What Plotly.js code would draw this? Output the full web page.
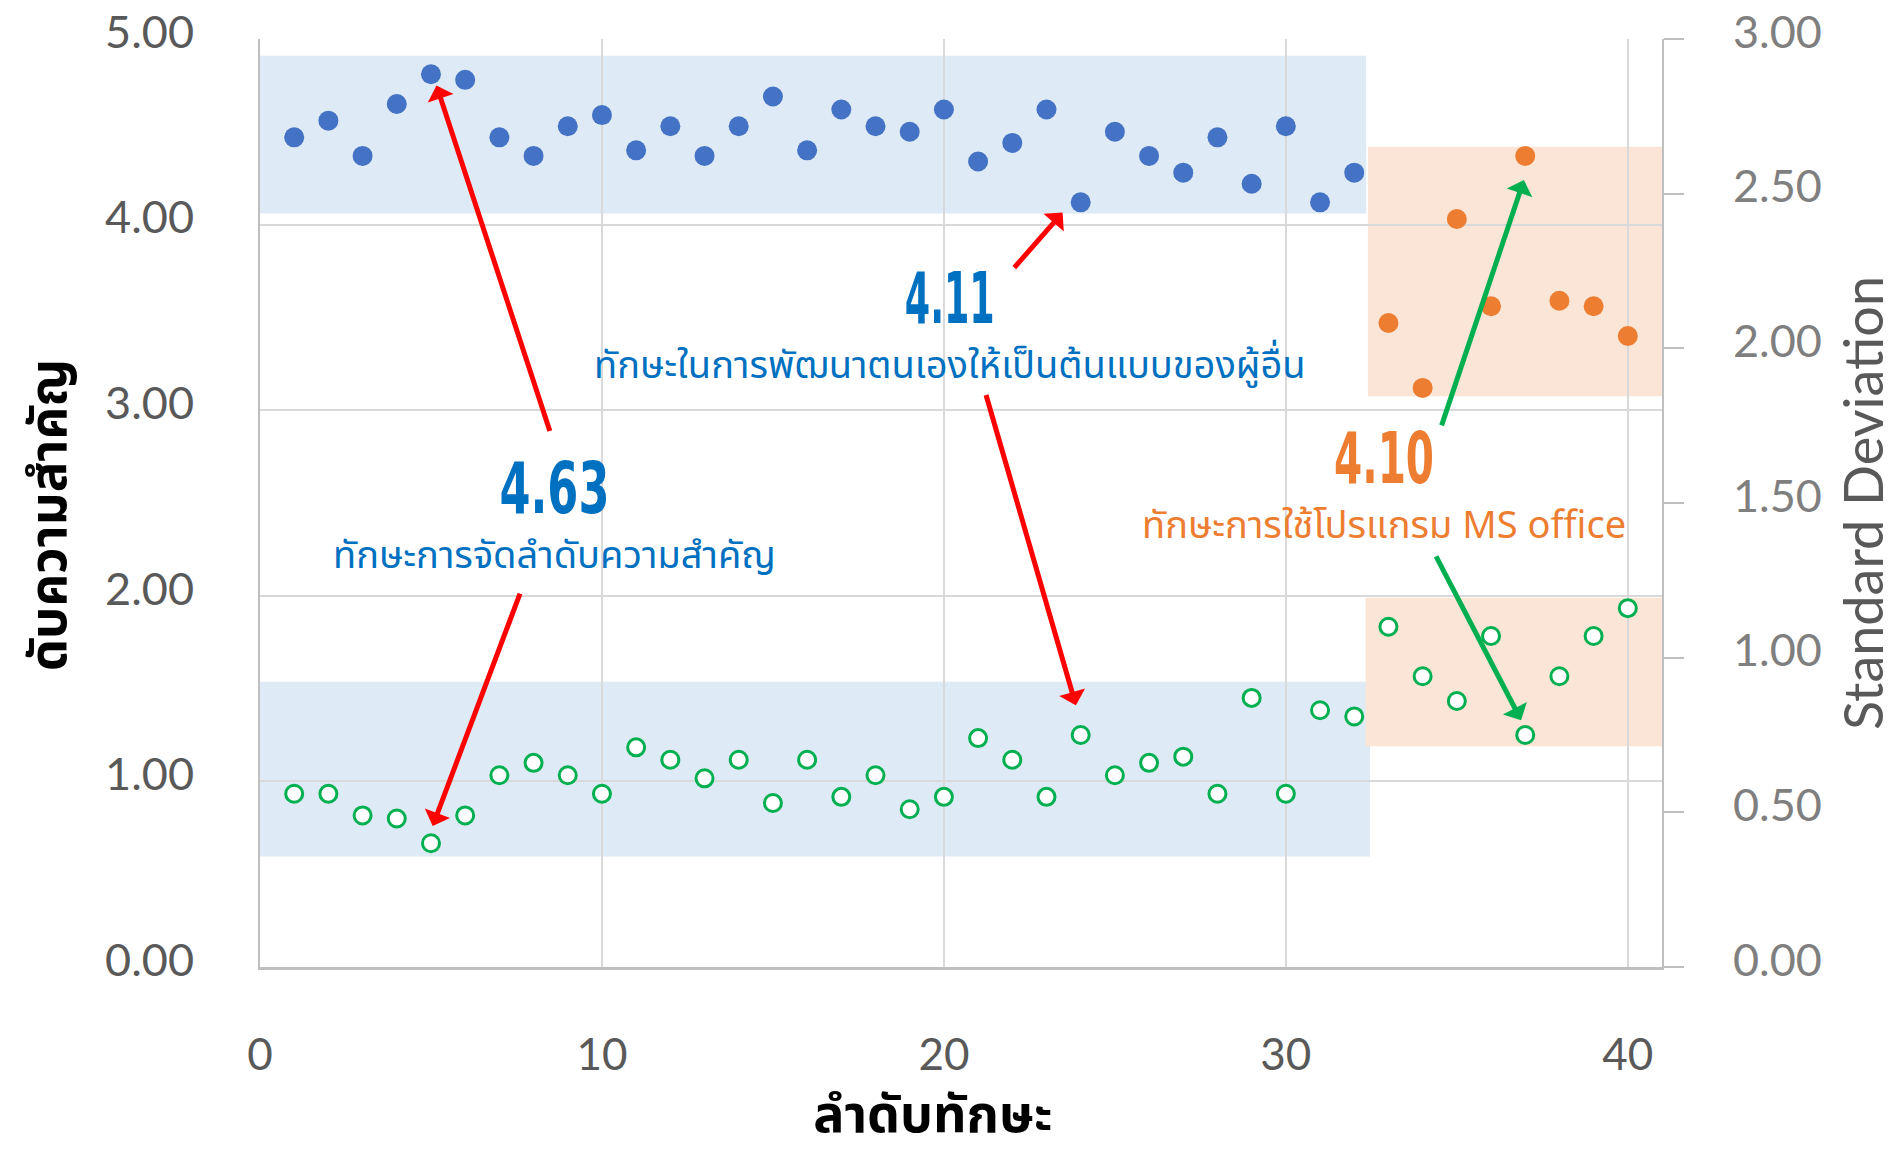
<!DOCTYPE html>
<html>
<head>
<meta charset="utf-8">
<script src="https://cdn.plot.ly/plotly-3.0.1.min.js"></script>
<style>html,body{margin:0;padding:0;background:#fff;}#chart{width:1895px;height:1159px;}</style>
</head>
<body>
<div id="chart"></div>
<script>
// ---- data ----
const skillIdxBlue = [1,2,3,4,5,6,7,8,9,10,11,12,13,14,15,16,17,18,19,20,21,22,23,24,25,26,27,28,29,30,31,32];
const meanBlue = [4.47,4.56,4.37,4.65,4.81,4.78,4.47,4.37,4.53,4.59,4.40,4.53,4.37,4.53,4.69,4.40,4.62,4.53,4.50,4.62,4.34,4.44,4.62,4.12,4.50,4.37,4.28,4.47,4.22,4.53,4.12,4.28];
const skillIdxOrange = [33,34,35,36,37,38,39,40];
const meanOrange = [3.47,3.12,4.03,3.56,4.37,3.59,3.56,3.40];
const skillIdxAll = [1,2,3,4,5,6,7,8,9,10,11,12,13,14,15,16,17,18,19,20,21,22,23,24,25,26,27,28,29,30,31,32,33,34,35,36,37,38,39,40];
const sdAll = [0.56,0.56,0.49,0.48,0.40,0.49,0.62,0.66,0.62,0.56,0.71,0.67,0.61,0.67,0.53,0.67,0.55,0.62,0.51,0.55,0.74,0.67,0.55,0.75,0.62,0.66,0.68,0.56,0.87,0.56,0.83,0.81,1.10,0.94,0.86,1.07,0.75,0.94,1.07,1.16];

const xTitle = 'ลำดับทักษะ';
const yTitle = 'ดับความสำคัญ';
const y2Title = 'Standard Deviation';

const calloutNums = ['4.63', '4.11', '4.10'];
const calloutLabels = ['ทักษะการจัดลำดับความสำคัญ', 'ทักษะในการพัฒนาตนเองให้เป็นต้นแบบของผู้อื่น', 'ทักษะการใช้โปรแกรม MS office'];
const calloutColors = ['#0070C0', '#0070C0', '#ED7D31'];
const calloutX = [8.6, 20.19, 32.88];
const calloutY = [2.43, 3.455, 2.59];
const calloutNumWidth = [110, 90, 100];   // condensed display width (px)

// arrows: tail (ax, ay) -> head (x, y), in x / left-y units
const arrows = [
  {ax:8.49, ay:2.88, x:5.16, y:4.75, color:'#FF0000'},
  {ax:7.62, ay:2.02, x:5.05, y:0.76, color:'#FF0000'},
  {ax:22.02, ay:3.76, x:23.47, y:4.065, color:'#FF0000'},
  {ax:21.22, ay:3.09, x:23.86, y:1.41, color:'#FF0000'},
  {ax:34.54, ay:2.91, x:36.96, y:4.24, color:'#00B050'},
  {ax:34.37, ay:2.22, x:36.88, y:1.33, color:'#00B050'}
];
// highlight boxes in x / left-y units
const boxes = [
  {x0:0, x1:32.35, y0:4.06, y1:4.91, fill:'#DEEAF6'},
  {x0:0, x1:32.46, y0:0.595, y1:1.537, fill:'#DEEAF6'},
  {x0:32.4, x1:41, y0:3.075, y1:4.42, fill:'#FBE5D6'},
  {x0:32.33, x1:41, y0:1.19, y1:1.99, fill:'#FBE5D6'}
];

const thaiFont = 'Noto Sans Thai, Leelawadee UI, Tahoma, Noto Sans, sans-serif';
const numFont = 'Lato, Noto Sans, sans-serif';
const condFont = 'Liberation Sans Narrow, DejaVu Sans Condensed, Arial Narrow, Noto Sans, sans-serif';

const traces = [
  {type:'scatter', mode:'markers', x:skillIdxBlue, y:meanBlue, marker:{color:'#4472C4', size:20}, showlegend:false, hoverinfo:'x+y'},
  {type:'scatter', mode:'markers', x:skillIdxOrange, y:meanOrange, marker:{color:'#ED7D31', size:20}, showlegend:false, hoverinfo:'x+y'},
  {type:'scatter', mode:'markers', x:skillIdxAll, y:sdAll, yaxis:'y2', marker:{color:'#FFFFFF', size:17, line:{color:'#00B050', width:3}}, showlegend:false, hoverinfo:'x+y'}
];

const annotations = [];
calloutNums.forEach((num, i) => {
  const txt = '<span style="font-family:' + condFont + ';font-size:71px;font-weight:bold">' + num + '</span>' +
              '<br><span style="font-size:38px">' + calloutLabels[i] + '</span>';
  annotations.push({xref:'x', yref:'y', x:calloutX[i], y:calloutY[i], text:txt, showarrow:false, align:'center',
    font:{family:thaiFont, size:42, color:calloutColors[i]}, xanchor:'center', yanchor:'middle'});
});
arrows.forEach(a => {
  annotations.push({xref:'x', yref:'y', axref:'x', ayref:'y', x:a.x, y:a.y, ax:a.ax, ay:a.ay, text:'',
    showarrow:true, arrowhead:1, arrowsize:0.9, arrowwidth:5, arrowcolor:a.color, standoff:0, startstandoff:0});
});

const shapes = boxes.map(b => ({type:'rect', xref:'x', yref:'y', x0:b.x0, x1:b.x1, y0:b.y0, y1:b.y1,
  fillcolor:b.fill, line:{width:0}, layer:'below'}));

const layout = {
  width:1895, height:1159,
  margin:{l:260, r:233, t:39, b:192, pad:0},
  paper_bgcolor:'#FFFFFF', plot_bgcolor:'#FFFFFF',
  showlegend:false,
  xaxis:{range:[0,41], tick0:0, dtick:10, showgrid:true, gridcolor:'#D9D9D9', gridwidth:2,
    zeroline:false, showline:true, linecolor:'#BFBFBF', linewidth:3, ticks:'',
    ticklabelstandoff:47, tickfont:{family:numFont, size:44, color:'#595959'},
    title:{text:xTitle, font:{family:thaiFont, size:52, color:'#000000', weight:'bold'}, standoff:36}},
  yaxis:{range:[0,5], dtick:1, tickformat:'.2f', showgrid:true, gridcolor:'#D9D9D9', gridwidth:2,
    zeroline:false, showline:true, linecolor:'#BFBFBF', linewidth:2, ticks:'',
    ticklabelstandoff:55, tickfont:{family:numFont, size:45, color:'#595959'},
    title:{text:yTitle, font:{family:thaiFont, size:51, color:'#000000', weight:'bold'}, standoff:22}},
  yaxis2:{range:[0,3], dtick:0.5, tickformat:'.2f', overlaying:'y', side:'right', showgrid:false,
    zeroline:false, showline:true, linecolor:'#BFBFBF', linewidth:2, ticks:'outside', ticklen:20,
    tickcolor:'#BFBFBF', tickwidth:2, ticklabelstandoff:40, tickfont:{family:numFont, size:45, color:'#7F7F7F'},
    title:{text:y2Title, font:{family:numFont, size:54, color:'#595959'}, standoff:24}},
  shapes:shapes,
  annotations:annotations
};

function nudge(el, dx, dy) {
  const tr = el.getAttribute('transform') || '';
  el.setAttribute('transform', 'translate(' + dx + ',' + dy + ') ' + tr);
}

Plotly.newPlot('chart', traces, layout, {staticPlot:true, displayModeBar:false}).then(gd => {
  // condense the big callout numbers (narrow display face)
  gd.querySelectorAll('text.annotation-text tspan').forEach(t => {
    if (t.children.length) return;
    const k = calloutNums.indexOf(t.textContent.trim());
    if (k >= 0) {
      t.setAttribute('textLength', calloutNumWidth[k]);
      t.setAttribute('lengthAdjust', 'spacingAndGlyphs');
    }
  });
  // vertical tick-label offset as in the source chart
  gd.querySelectorAll('g.ytick text, g.y2tick text').forEach(t => nudge(t, 0, -7));
  // axis title placement as in the source chart (kept inside the canvas)
  const xt = gd.querySelector('text.xtitle');
  if (xt) nudge(xt, -28, -4);
  const yt = gd.querySelector('text.ytitle');
  if (yt) nudge(yt, 0, 12);
});
</script>
</body>
</html>
